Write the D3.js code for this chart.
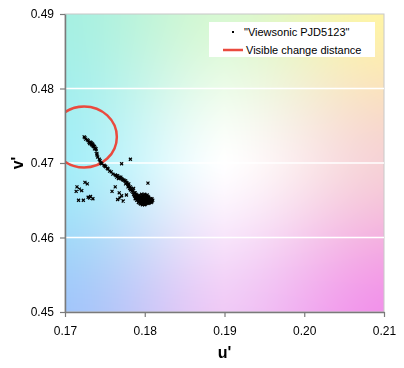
<!DOCTYPE html>
<html>
<head>
<meta charset="utf-8">
<script src="https://cdn.jsdelivr.net/npm/d3@7"></script>
<style>
  body { margin: 0; background: #fff; font-family: "Liberation Sans", Arial, sans-serif; }
  #chart { position: relative; width: 404px; height: 368px; }
  #chart canvas, #chart svg { position: absolute; left: 0; top: 0; }
</style>
</head>
<body>
<div id="chart"></div>
<script>
// Chart data
const xTicks = [0.17, 0.18, 0.19, 0.20, 0.21];
const yTicks = [0.45, 0.46, 0.47, 0.48, 0.49];
const gridLines = [0.46, 0.47, 0.48];
const seriesName = '"Viewsonic PJD5123"';
const circleName = 'Visible change distance';
const jndCenter = [0.1724, 0.4735];
const jndRadius = 0.0041;

// u', v' readings: the thin streak from top left down to the main cluster
const streakPoints = [
  [0.1724, 0.4735], [0.1725, 0.4734], [0.1726, 0.4732], [0.1728, 0.4731], [0.1729, 0.4730],
  [0.1730, 0.4728], [0.1731, 0.4727], [0.1731, 0.4726], [0.1733, 0.4727], [0.1734, 0.4724],
  [0.1735, 0.4723], [0.1734, 0.4726], [0.1736, 0.4722], [0.1738, 0.4720], [0.1736, 0.4723],
  [0.1732, 0.4728], [0.1733, 0.4725], [0.1735, 0.4725], [0.1737, 0.4722], [0.1737, 0.4719],
  [0.1739, 0.4719], [0.1739, 0.4716], [0.1740, 0.4713], [0.1740, 0.4711], [0.1741, 0.4708],
  [0.1743, 0.4705], [0.1744, 0.4703], [0.1745, 0.4700], [0.1746, 0.4699], [0.1749, 0.4697],
  [0.1750, 0.4696], [0.1751, 0.4695], [0.1753, 0.4693], [0.1754, 0.4692], [0.1756, 0.4689],
  [0.1758, 0.4688], [0.1760, 0.4685], [0.1763, 0.4684], [0.1764, 0.4683], [0.1765, 0.4681],
  [0.1766, 0.4683], [0.1768, 0.4681], [0.1769, 0.4680], [0.1770, 0.4681], [0.1771, 0.4679],
  [0.1773, 0.4677], [0.1774, 0.4677], [0.1775, 0.4676], [0.1776, 0.4676], [0.1778, 0.4673],
  [0.1776, 0.4672], [0.1779, 0.4671], [0.1780, 0.4669], [0.1782, 0.4668], [0.1783, 0.4666],
  [0.1782, 0.4664], [0.1784, 0.4662], [0.1779, 0.4668], [0.1783, 0.4664], [0.1785, 0.4664],
  [0.1767, 0.4679], [0.1772, 0.4678], [0.1777, 0.4674], [0.1780, 0.4672], [0.1781, 0.4666]
];

// the dense cluster around (0.180, 0.465)
const blobPoints = [
  [0.1785, 0.4661], [0.1787, 0.4660], [0.1788, 0.4660], [0.1789, 0.4658], [0.1790, 0.4657],
  [0.1792, 0.4656], [0.1793, 0.4656], [0.1794, 0.4654], [0.1795, 0.4654], [0.1797, 0.4653],
  [0.1798, 0.4653], [0.1799, 0.4652], [0.1800, 0.4652], [0.1802, 0.4650], [0.1803, 0.4650],
  [0.1804, 0.4650], [0.1805, 0.4649], [0.1807, 0.4649], [0.1808, 0.4649], [0.1787, 0.4656],
  [0.1789, 0.4654], [0.1792, 0.4653], [0.1794, 0.4652], [0.1797, 0.4650], [0.1799, 0.4649],
  [0.1802, 0.4648], [0.1804, 0.4648], [0.1807, 0.4648], [0.1788, 0.4652], [0.1790, 0.4650],
  [0.1793, 0.4649], [0.1795, 0.4648], [0.1798, 0.4646], [0.1800, 0.4646], [0.1803, 0.4646],
  [0.1805, 0.4646], [0.1808, 0.4650], [0.1809, 0.4652], [0.1807, 0.4652], [0.1804, 0.4653],
  [0.1802, 0.4654], [0.1799, 0.4656], [0.1797, 0.4656], [0.1800, 0.4658], [0.1803, 0.4657],
  [0.1805, 0.4654], [0.1798, 0.4645], [0.1800, 0.4644], [0.1795, 0.4645], [0.1793, 0.4650],
  [0.1790, 0.4653], [0.1786, 0.4666], [0.1786, 0.4658], [0.1788, 0.4655], [0.1791, 0.4655],
  [0.1791, 0.4651], [0.1792, 0.4647], [0.1794, 0.4646], [0.1796, 0.4651], [0.1796, 0.4647],
  [0.1797, 0.4644], [0.1799, 0.4647], [0.1801, 0.4651], [0.1801, 0.4647], [0.1801, 0.4645],
  [0.1803, 0.4652], [0.1804, 0.4655], [0.1806, 0.4651], [0.1806, 0.4647], [0.1808, 0.4647],
  [0.1809, 0.4648], [0.1810, 0.4650], [0.1798, 0.4655], [0.1796, 0.4658], [0.1802, 0.4656]
];

// scattered single readings
const outlierPoints = [
  [0.1771, 0.4699], [0.1782, 0.4705], [0.1804, 0.4673],
  [0.1715, 0.4668], [0.1718, 0.4665], [0.1714, 0.4662], [0.1721, 0.4663], [0.1725, 0.4674],
  [0.1728, 0.4672], [0.1717, 0.4650], [0.1723, 0.4650], [0.1731, 0.4653], [0.1735, 0.4652],
  [0.1732, 0.4655], [0.1729, 0.4654],
  [0.1759, 0.4662], [0.1763, 0.4668], [0.1766, 0.4651], [0.1769, 0.4653], [0.1773, 0.4649],
  [0.1777, 0.4657], [0.1768, 0.4660], [0.1771, 0.4656]
];

// background colour field: rows top, middle, bottom; columns left, middle, right
const bgColors = [
  ['#a6f0e2', '#d8f8d2', '#fff4a6'],
  ['#a4eef8', '#ffffff', '#f6d2d6'],
  ['#a2c6fa', '#f0caf6', '#f292ea']
];

const W = 404, H = 368;
const margin = { top: 14, right: 20, bottom: 56, left: 65 };
const plotW = W - margin.left - margin.right;
const plotH = H - margin.top - margin.bottom;

const x = d3.scaleLinear().domain([0.17, 0.21]).range([margin.left, margin.left + plotW]);
const y = d3.scaleLinear().domain([0.45, 0.49]).range([margin.top + plotH, margin.top]);

// Paint the colour field on a canvas behind the svg
const renderBackground = () => {
  const canvas = d3.select('#chart').append('canvas')
    .attr('width', plotW)
    .attr('height', plotH)
    .style('left', margin.left + 'px')
    .style('top', margin.top + 'px')
    .node();
  const ctx = canvas.getContext('2d');
  const img = ctx.createImageData(plotW, plotH);
  const grid = bgColors.map(row => row.map(c => { const r = d3.rgb(c); return [r.r, r.g, r.b]; }));

  // half linear, half eased: softens the crease at the white centre without a flat plateau
  const ease = t => 0.5 * t + 0.5 * d3.easeSinInOut(t);
  const lerp = (a, b, t) => a.map((v, i) => v + (b[i] - v) * t);
  const seg = (p, f) => f < 0.5 ? lerp(p[0], p[1], ease(f * 2)) : lerp(p[1], p[2], ease((f - 0.5) * 2));

  for (let j = 0; j < plotH; j++) {
    const fy = j / (plotH - 1);
    for (let i = 0; i < plotW; i++) {
      const fx = i / (plotW - 1);
      const c = seg(grid.map(row => seg(row, fx)), fy);
      const k = (j * plotW + i) * 4;
      img.data[k] = c[0];
      img.data[k + 1] = c[1];
      img.data[k + 2] = c[2];
      img.data[k + 3] = 255;
    }
  }
  ctx.putImageData(img, 0, 0);
};

const renderChart = () => {
  const svg = d3.select('#chart').append('svg')
    .attr('width', W)
    .attr('height', H);

  svg.append('defs').append('clipPath')
    .attr('id', 'plot-clip')
    .append('rect')
    .attr('x', margin.left).attr('y', margin.top)
    .attr('width', plotW).attr('height', plotH);

  // plot frame
  svg.append('rect')
    .attr('x', margin.left).attr('y', margin.top)
    .attr('width', plotW).attr('height', plotH)
    .attr('fill', 'none')
    .attr('stroke', '#c8c8c8')
    .attr('stroke-width', 1);

  // white gridlines
  svg.append('g')
    .selectAll('line')
    .data(gridLines)
    .join('line')
    .attr('x1', margin.left).attr('x2', margin.left + plotW)
    .attr('y1', d => y(d)).attr('y2', d => y(d))
    .attr('stroke', '#ffffff')
    .attr('stroke-width', 1.5);

  // visible change circle
  svg.append('ellipse')
    .attr('clip-path', 'url(#plot-clip)')
    .attr('cx', x(jndCenter[0]))
    .attr('cy', y(jndCenter[1]))
    .attr('rx', x(jndCenter[0] + jndRadius) - x(jndCenter[0]))
    .attr('ry', y(jndCenter[1]) - y(jndCenter[1] + jndRadius))
    .attr('fill', 'none')
    .attr('stroke', '#ea4a3e')
    .attr('stroke-width', 2.5);

  // measurements
  const allPoints = streakPoints.concat(blobPoints, outlierPoints);
  const marker = d3.symbol().type(d3.symbolTimes).size(7);
  svg.append('g')
    .selectAll('path')
    .data(allPoints)
    .join('path')
    .attr('transform', d => `translate(${x(d[0])},${y(d[1])})`)
    .attr('d', marker)
    .attr('fill', 'none')
    .attr('stroke', '#000')
    .attr('stroke-width', 1.2);

  // axes
  const fmt = d3.format('.2f');
  const styleAxis = g => {
    g.select('.domain').attr('stroke', '#7a7a7a').attr('stroke-width', 1.5);
    g.selectAll('.tick line').attr('stroke', '#7a7a7a').attr('stroke-width', 1.2);
    g.selectAll('text').attr('fill', '#000').style('font-size', '12px')
      .style('font-family', '"Liberation Sans", Arial, sans-serif');
  };

  svg.append('g')
    .attr('transform', `translate(${margin.left},0)`)
    .call(d3.axisLeft(y).tickValues(yTicks).tickSize(5).tickPadding(6).tickFormat(fmt).tickSizeOuter(0))
    .call(styleAxis);

  svg.append('g')
    .attr('transform', `translate(0,${margin.top + plotH})`)
    .call(d3.axisBottom(x).tickValues(xTicks).tickSize(5).tickPadding(9).tickFormat(fmt).tickSizeOuter(0))
    .call(styleAxis);

  // axis titles
  svg.append('text')
    .attr('x', margin.left + plotW / 2)
    .attr('y', 358)
    .attr('text-anchor', 'middle')
    .style('font-size', '16px')
    .style('font-weight', 'bold')
    .text("u'");

  svg.append('text')
    .attr('transform', `translate(23,${y(0.47)}) rotate(-90)`)
    .attr('text-anchor', 'middle')
    .style('font-size', '16px')
    .style('font-weight', 'bold')
    .text("v'");

  // legend
  const legend = svg.append('g').attr('transform', 'translate(209,22)');
  legend.append('rect')
    .attr('width', 166).attr('height', 35)
    .attr('fill', '#fff');
  legend.append('rect')
    .attr('x', 23).attr('y', 9)
    .attr('width', 2).attr('height', 2)
    .attr('fill', '#000');
  legend.append('text')
    .attr('x', 35).attr('y', 14)
    .style('font-size', '11px')
    .text(seriesName);
  legend.append('line')
    .attr('x1', 14).attr('x2', 34)
    .attr('y1', 28).attr('y2', 28)
    .attr('stroke', '#ea4a3e')
    .attr('stroke-width', 2.5);
  legend.append('text')
    .attr('x', 37).attr('y', 32)
    .style('font-size', '11px')
    .text(circleName);
};

renderBackground();
renderChart();
</script>
</body>
</html>
